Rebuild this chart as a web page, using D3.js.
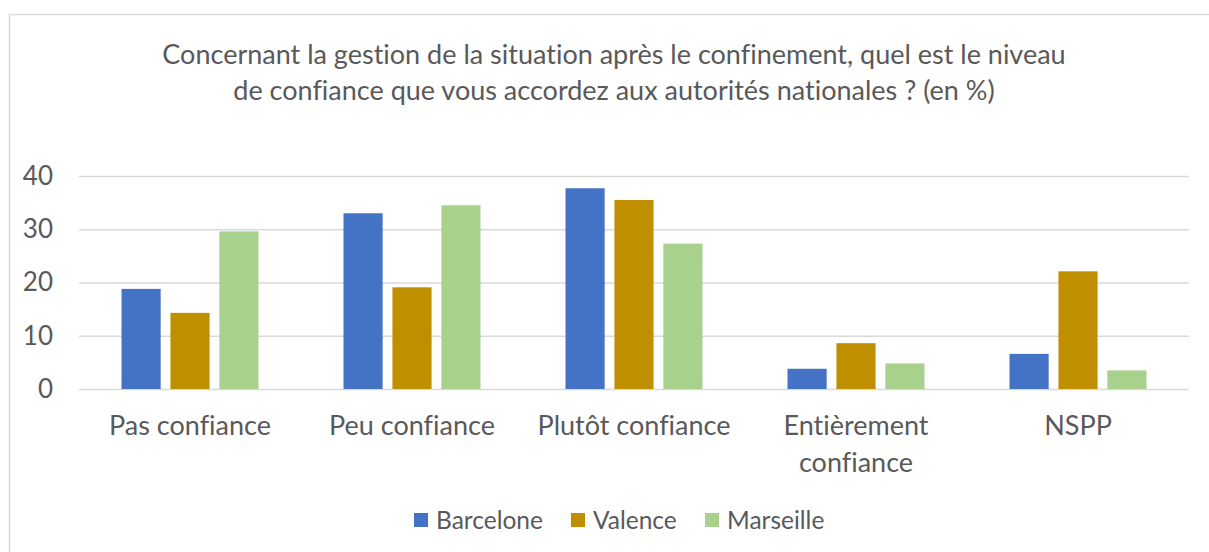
<!DOCTYPE html>
<html>
<head>
<meta charset="utf-8">
<script src="https://cdn.jsdelivr.net/npm/d3@7/dist/d3.min.js"></script>
<style>
  html, body { margin: 0; padding: 0; background: #fff; }
  svg { display: block; font-family: Lato, "Open Sans", sans-serif; font-variant-ligatures: none; }
</style>
</head>
<body>
<svg id="chart" width="1209" height="552"></svg>
<script>
// Survey answers (in %) by city
const categories = ["Pas confiance", "Peu confiance", "Plutôt confiance", "Entièrement confiance", "NSPP"];
const seriesNames = ["Barcelone", "Valence", "Marseille"];
const barcelone = [18.8, 33.0, 37.7, 3.8, 6.6];
const valence   = [14.3, 19.1, 35.5, 8.6, 22.1];
const marseille = [29.6, 34.5, 27.3, 4.8, 3.5];
const yTicks = [0, 10, 20, 30, 40];
const titleLines = [
  "Concernant la gestion de la situation après le confinement, quel est le niveau",
  "de confiance que vous accordez aux autorités nationales ? (en %)"
];

const seriesValues = [barcelone, valence, marseille];
const colors = ["#4472C4", "#BF8F00", "#A9D18E"];
const textColor = "#595959";
const gridColor = "#D9D9D9";

const svg = d3.select("#chart");

// Chart frame
svg.append("rect")
  .attr("x", 9.5).attr("y", 14.5)
  .attr("width", 1300).attr("height", 600)
  .attr("fill", "#fff")
  .attr("stroke", gridColor).attr("stroke-width", 1.5);

// Title
svg.append("g").selectAll("text")
  .data(titleLines)
  .join("text")
  .attr("x", 614)
  .attr("y", (d, i) => 64 + i * 36)
  .attr("text-anchor", "middle")
  .attr("fill", textColor)
  .style("font-size", "27px")
  .text(d => d);

const plot = { left: 79, right: 1189, top: 176, bottom: 389 };

const x0 = d3.scaleBand()
  .domain(categories)
  .range([plot.left, plot.right]);

const groupWidth = 137;
const x1 = d3.scaleBand()
  .domain(seriesNames)
  .range([(x0.bandwidth() - groupWidth) / 2, (x0.bandwidth() + groupWidth) / 2])
  .paddingInner(0.2);

const y = d3.scaleLinear()
  .domain([0, 40])
  .range([plot.bottom, plot.top]);

// Value axis with gridlines
const yAxis = svg.append("g")
  .attr("transform", `translate(${plot.left},0)`)
  .call(d3.axisLeft(y).tickValues(yTicks).tickSize(-(plot.right - plot.left)).tickPadding(26));
yAxis.select(".domain").remove();
yAxis.selectAll(".tick line")
  .attr("stroke", gridColor).attr("stroke-width", 1.5);
yAxis.selectAll(".tick text")
  .attr("fill", textColor)
  .attr("dy", "0.32em")
  .style("font-size", "26px")
  .style("font-family", "Lato, sans-serif");

// Bars
const rows = categories.map((c, i) => ({
  cat: c,
  vals: seriesNames.map((s, j) => ({ key: s, value: seriesValues[j][i], color: colors[j] }))
}));

svg.append("g").selectAll("g")
  .data(rows)
  .join("g")
  .attr("transform", d => `translate(${x0(d.cat)},0)`)
  .selectAll("rect")
  .data(d => d.vals)
  .join("rect")
  .attr("x", d => x1(d.key))
  .attr("width", x1.bandwidth())
  .attr("y", d => y(d.value))
  .attr("height", d => y(0) - y(d.value))
  .attr("fill", d => d.color);

// Category axis (labels wrapped on two lines when long)
const xAxis = svg.append("g")
  .attr("transform", `translate(0,${plot.bottom})`)
  .call(d3.axisBottom(x0).tickSize(0).tickFormat(""));
xAxis.select(".domain").remove();
xAxis.selectAll(".tick").each(function (d) {
  const words = d === "Entièrement confiance" ? ["Entièrement", "confiance"] : [d];
  const t = d3.select(this).append("text")
    .attr("fill", textColor)
    .attr("text-anchor", "middle")
    .style("font-size", "27px")
    .style("font-family", "Lato, sans-serif");
  words.forEach((w, i) => {
    t.append("tspan").attr("x", 0).attr("y", 46 + i * 36.5).text(w);
  });
});

// Legend
const legendX = [414, 571, 705];
const legend = svg.append("g").selectAll("g")
  .data(seriesNames)
  .join("g")
  .attr("transform", (d, i) => `translate(${legendX[i]},513)`);
legend.append("rect")
  .attr("width", 14).attr("height", 14)
  .attr("fill", (d, i) => colors[i]);
legend.append("text")
  .attr("x", 22).attr("y", 16)
  .attr("fill", textColor)
  .style("font-size", "24.5px")
  .text(d => d);
</script>
</body>
</html>
